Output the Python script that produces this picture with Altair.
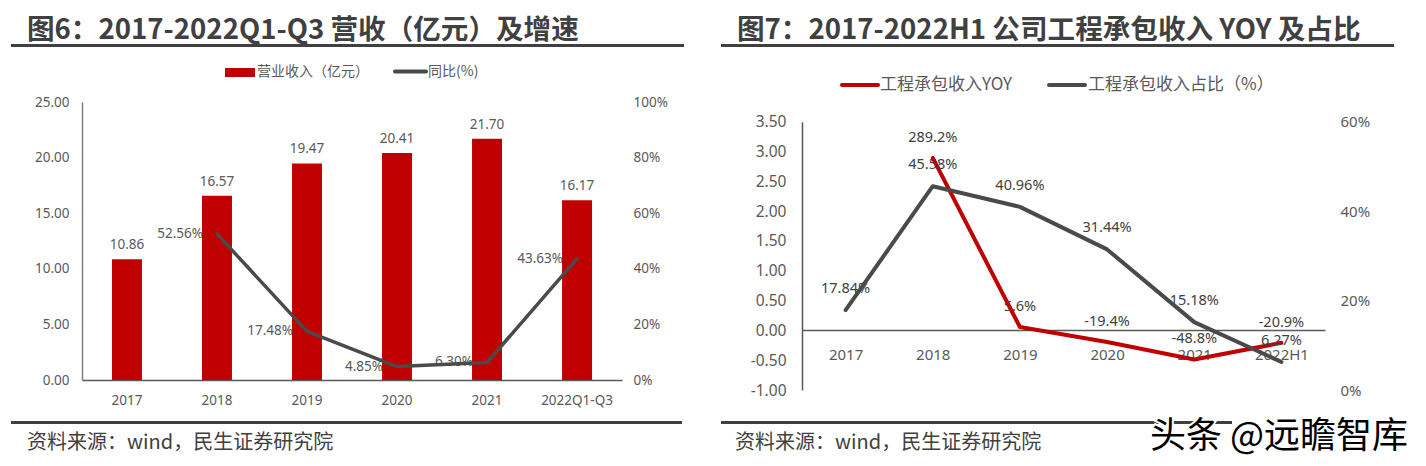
import altair as alt
import pandas as pd

# ---------------- data ----------------
left_categories = ["2017", "2018", "2019", "2020", "2021", "2022Q1-Q3"]
revenue = [10.86, 16.57, 19.47, 20.41, 21.70, 16.17]          # 亿元
growth_pct = [None, 52.56, 17.48, 4.85, 6.30, 43.63]           # %

right_categories = ["2017", "2018", "2019", "2020", "2021", "2022H1"]
yoy_pct = [None, 289.2, 5.6, -19.4, -48.8, -20.9]              # %
share_pct = [17.84, 45.58, 40.96, 31.44, 15.18, 6.27]          # %

left_y_ticks = [0, 5, 10, 15, 20, 25]
left_y2_ticks = [0, 0.2, 0.4, 0.6, 0.8, 1.0]
right_y_ticks = [-1, -0.5, 0, 0.5, 1, 1.5, 2, 2.5, 3, 3.5]
right_y2_ticks = [0, 0.2, 0.4, 0.6]

title_left = "图6：2017-2022Q1-Q3 营收（亿元）及增速"
title_right = "图7：2017-2022H1 公司工程承包收入 YOY 及占比"
legend_left = ["营业收入（亿元）", "同比(%)"]
legend_right = ["工程承包收入YOY", "工程承包收入占比（%）"]
source_text = "资料来源：wind，民生证券研究院"
watermark = "头条 @远瞻智库"

# ---------------- tables ----------------
def pct_label(v, d):
    s = f"{abs(v):.{d}f}%"
    return ("-" + s) if v < 0 else s

rev_df = pd.DataFrame({"year": left_categories, "rev": revenue,
                       "lab": [f"{v:.2f}" for v in revenue]})
g_rows = [(c, v) for c, v in zip(left_categories, growth_pct) if v is not None]
g_df = pd.DataFrame({"year": [r[0] for r in g_rows],
                     "g": [r[1] / 100 for r in g_rows],
                     "lab": [pct_label(r[1], 2) for r in g_rows]})
y_rows = [(c, v) for c, v in zip(right_categories, yoy_pct) if v is not None]
yoy_df = pd.DataFrame({"period": [r[0] for r in y_rows],
                       "yoy": [r[1] / 100 for r in y_rows],
                       "lab": [pct_label(r[1], 1) for r in y_rows]})
share_df = pd.DataFrame({"period": right_categories,
                         "share": [v / 100 for v in share_pct],
                         "lab": [pct_label(v, 2) for v in share_pct]})

W, H = 1410, 450
CJK = "Noto Sans CJK SC"
NUM = "Noto Sans"
RED = "#C00000"
GRAY = "#4a4a4a"
TXT = "#595959"

# ---------------- left panel ----------------
lx = alt.X("year:N", title=None, sort=left_categories,
           scale=alt.Scale(domain=left_categories, range=[74, 614],
                           paddingInner=0.667, paddingOuter=0.333),
           axis=alt.Axis(orient="bottom", offset=-78, ticks=False, domain=True,
                         domainColor="#595959", domainWidth=1.5, labelPadding=13,
                         labelAngle=0, labelFontSize=13.5, labelColor=TXT,
                         labelFont=NUM, labelOverlap=False, grid=False))
ly = alt.Y("rev:Q", title=None,
           scale=alt.Scale(domain=[0, 25], range=[372, 94], nice=False),
           axis=alt.Axis(orient="left", offset=-74, values=left_y_ticks, format=".2f",
                         ticks=False, domain=True, domainColor="#7f7f7f", domainWidth=1.5,
                         labelPadding=13, labelFontSize=13.5, labelColor=TXT,
                         labelFont=NUM, grid=False))
ly2 = alt.Y("g:Q", title=None,
            scale=alt.Scale(domain=[0, 1], range=[372, 94], nice=False),
            axis=alt.Axis(orient="right", offset=-796, values=left_y2_ticks, format=".0%",
                          ticks=False, domain=False, labelPadding=11, labelFontSize=13.5,
                          labelColor=TXT, labelFont=NUM, grid=False))

bars = alt.Chart(rev_df).mark_bar(color=RED).encode(x=lx, y=ly)
bar_labels = alt.Chart(rev_df).mark_text(dy=-14, baseline="middle", fontSize=13.5,
                                          font=NUM, color=TXT).encode(x=lx, y=ly, text="lab:N")
g_line = alt.Chart(g_df).mark_line(color=GRAY, strokeWidth=3.5, strokeCap="round",
                                   strokeJoin="round").encode(x=lx, y=ly2)
g_labels = alt.Chart(g_df).mark_text(align="right", dx=-14, baseline="middle", fontSize=13.5,
                                      font=NUM, color=TXT).encode(x=lx, y=ly2, text="lab:N")

left_panel = alt.layer(alt.layer(bars, bar_labels),
                       alt.layer(g_labels, g_line)).resolve_scale(y="independent")

# ---------------- right panel ----------------
rx = alt.X("period:N", title=None, sort=right_categories,
           scale=alt.Scale(domain=right_categories, range=[794, 1317],
                           paddingInner=0, paddingOuter=0),
           axis=alt.Axis(orient="bottom", offset=-128, ticks=False, domain=True,
                         domainColor="#595959", domainWidth=1.5, labelPadding=17,
                         labelAngle=0, labelFontSize=15, labelColor=TXT,
                         labelFont=NUM, labelOverlap=False, grid=False))
ry = alt.Y("yoy:Q", title=None,
           scale=alt.Scale(domain=[-1, 3.5], range=[382, 113.7], nice=False, zero=False),
           axis=alt.Axis(orient="left", offset=-794, values=right_y_ticks,
                         labelExpr="(datum.value < 0 ? '-' : '') + format(abs(datum.value), '.2f')",
                         ticks=False, domain=True, domainColor="#595959", domainWidth=1.5,
                         labelPadding=16, labelFontSize=15.5, labelColor=TXT,
                         labelFont=NUM, grid=False))
ry2 = alt.Y("share:Q", title=None,
            scale=alt.Scale(domain=[0, 0.6], range=[382, 113.7], nice=False),
            axis=alt.Axis(orient="right", offset=-93, values=right_y2_ticks, format=".0%",
                          ticks=False, domain=False, labelPadding=15, labelFontSize=15,
                          labelColor=TXT, labelFont=NUM, grid=False))

yoy_line = alt.Chart(yoy_df).mark_line(color=RED, strokeWidth=4, strokeCap="round",
                                       strokeJoin="round").encode(x=rx, y=ry)
yoy_labels = alt.Chart(yoy_df).mark_text(dy=-20, baseline="middle", fontSize=14.5,
                                          font=NUM, color="#404040").encode(x=rx, y=ry, text="lab:N")
share_line = alt.Chart(share_df).mark_line(color=GRAY, strokeWidth=4, strokeCap="round",
                                           strokeJoin="round").encode(x=rx, y=ry2)
share_labels = alt.Chart(share_df).mark_text(dy=-21, baseline="middle", fontSize=14.5,
                                              font=NUM, color="#404040").encode(x=rx, y=ry2, text="lab:N")

right_panel = alt.layer(alt.layer(yoy_labels, yoy_line),
                        alt.layer(share_labels, share_line)).resolve_scale(y="independent")

# ---------------- decorations ----------------
def text_at(txt, x, y, size, color, weight="normal", font=CJK, align="left", stroke=None, sw=0):
    kw = dict(align=align, baseline="middle", fontSize=size, fontWeight=weight,
              font=font, color=color)
    if stroke:
        kw.update(stroke=stroke, strokeWidth=sw)
    return alt.Chart(pd.DataFrame({"t": [txt]})).mark_text(**kw).encode(
        x=alt.value(x), y=alt.value(y), text="t:N")

def hline(x1, x2, y, w, color, cap="butt"):
    return alt.Chart(pd.DataFrame({"a": [0]})).mark_rule(
        strokeWidth=w, color=color, strokeCap=cap).encode(
        x=alt.value(x1), x2=alt.value(x2), y=alt.value(y))

def box(x1, x2, y1, y2, color):
    return alt.Chart(pd.DataFrame({"a": [0]})).mark_rect(color=color).encode(
        x=alt.value(x1), x2=alt.value(x2), y=alt.value(y1), y2=alt.value(y2))

decor = [
    text_at(title_left, 19, 23, 27.6, "#404040", weight="bold"),
    text_at(title_right, 729, 23, 27.6, "#404040", weight="bold"),
    hline(3, 676, 37.5, 3, "#404040"),
    hline(713, 1386, 37.5, 3, "#404040"),
    # legends
    box(217, 247, 60, 69, RED),
    text_at(legend_left[0], 249, 64, 14, TXT),
    hline(387, 418, 63.5, 4, GRAY, cap="round"),
    text_at(legend_left[1], 420, 64, 14, TXT),
    hline(834, 870, 77, 4, RED, cap="round"),
    text_at(legend_right[0], 872, 77, 17, TXT),
    hline(1041, 1077, 77, 4, GRAY, cap="round"),
    text_at(legend_right[1], 1080, 77, 17, TXT),
    # footers
    hline(3, 674, 414.5, 3, "#404040"),
    hline(713, 1224, 414.5, 3, "#404040"),
    text_at(source_text, 19, 435, 20, "#404040"),
    text_at(source_text, 727, 435, 20, "#404040"),
    text_at(watermark, 1142, 429, 36, "white", stroke="white", sw=4),
    text_at(watermark, 1142, 429, 36, "black"),
]

chart = alt.layer(left_panel, right_panel, *decor).resolve_scale(
    x="independent", y="independent"
).properties(
    width=W, height=H, autosize=alt.AutoSizeParams(type="none"), padding=0
).configure_view(stroke=None)

chart.save("out.html", embed_options={"renderer": "svg", "actions": False})
